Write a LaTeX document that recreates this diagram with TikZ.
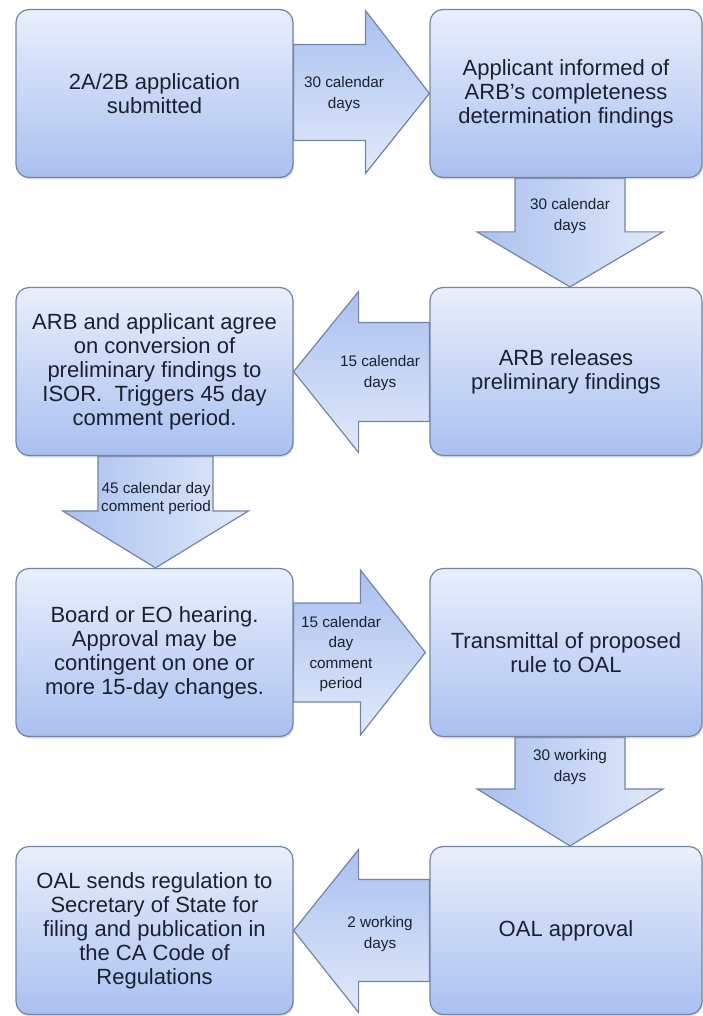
\documentclass[tikz,border=0pt]{standalone}
\usepackage{fontspec}
\setmainfont{Liberation Sans}
\usetikzlibrary{shadows,backgrounds,calc}
\definecolor{boxtop}{HTML}{E9EFFC}
\definecolor{boxbot}{HTML}{A9C0F0}
\definecolor{arrdark}{HTML}{A9C0EF}
\definecolor{arrlight}{HTML}{E2EAFA}
\definecolor{edge}{HTML}{7384A4}
\definecolor{ink}{HTML}{1B2030}
\tikzset{
  stage/.style={draw=edge, line width=1.2pt, rounded corners=13pt,
    top color=boxtop, bottom color=boxbot,
    minimum width=277pt, minimum height=168pt, inner sep=0pt,
    align=center, text=ink, font=\fontsize{22}{24}\selectfont,
    drop shadow={shadow xshift=1pt, shadow yshift=-2pt, opacity=0.25}},
  stageR/.style={stage, minimum width=272pt},
  blockarrow/.style={draw=edge, line width=1.2pt, line join=miter},
  harrow/.style={blockarrow, top color=arrdark, bottom color=arrlight},
  varrow/.style={blockarrow, left color=arrdark, right color=arrlight},
  lbl/.style={font=\fontsize{15.3}{20.5}\selectfont, text=ink, align=center, inner sep=0pt},
}
\begin{document}
\begin{tikzpicture}[x=1pt,y=-1pt]
\useasboundingbox (0,0) rectangle (703,1016);

% boxes
\node[stage]  (b1) at (154.5,93.5)  {2A/2B application\\submitted};
\node[stageR] (b2) at (566,93.5)    {Applicant informed of\\ARB’s completeness\\determination findings};
\node[stage]  (b3) at (154.5,371.5) {ARB and applicant agree\\on conversion of\\preliminary findings to\\ISOR.\ \ Triggers 45 day\\comment period.};
\node[stageR] (b4) at (566,371.5)   {ARB releases\\preliminary findings};
\node[stage]  (b5) at (154.5,652.5) {Board or EO hearing.\\Approval may be\\contingent on one or\\more 15-day changes.};
\node[stageR] (b6) at (566,652.5)   {Transmittal of proposed\\rule to OAL};
\node[stage]  (b7) at (154.5,930.5) {OAL sends regulation to\\Secretary of State for\\filing and publication in\\the CA Code of\\Regulations};
\node[stageR] (b8) at (566,930.5)   {OAL approval};

\begin{scope}[on background layer]
% b1 -> b2 (right)
\draw[harrow] ($(b1.east)+(0,-49)$) -- ($(b2.west)+(-64,-49)$) -- ($(b2.west)+(-64,-83)$)
  -- (b2.west) -- ($(b2.west)+(-64,80)$) -- ($(b2.west)+(-64,47)$) -- ($(b1.east)+(0,47)$) -- cycle;
% b2 -> b4 (down)
\coordinate (d1) at ($(b2.south)+(4,0)$);
\coordinate (d1t) at (d1 |- b4.north);
\draw[varrow] ($(d1)+(-55,0)$) -- ($(d1t)+(-55,-55)$) -- ($(d1t)+(-93,-55)$) -- (d1t)
  -- ($(d1t)+(93,-55)$) -- ($(d1t)+(55,-55)$) -- ($(d1)+(55,0)$) -- cycle;
% b4 -> b3 (left)
\draw[harrow] ($(b4.west)+(0,-49)$) -- ($(b3.east)+(65,-49)$) -- ($(b3.east)+(65,-80)$)
  -- (b3.east) -- ($(b3.east)+(65,81)$) -- ($(b3.east)+(65,50)$) -- ($(b4.west)+(0,50)$) -- cycle;
% b3 -> b5 (down)
\coordinate (d2) at ($(b3.south)+(1,0)$);
\coordinate (d2t) at (d2 |- b5.north);
\draw[varrow] ($(d2)+(-57.5,0)$) -- ($(d2t)+(-57.5,-57)$) -- ($(d2t)+(-93,-57)$) -- (d2t)
  -- ($(d2t)+(93,-57)$) -- ($(d2t)+(57.5,-57)$) -- ($(d2)+(57.5,0)$) -- cycle;
% b5 -> b6 (right)
\draw[harrow] ($(b5.east)+(0,-49.5)$) -- ($(b6.west)+(-69,-49.5)$) -- ($(b6.west)+(-69,-82.5)$)
  -- ($(b6.west)+(-4,0)$) -- ($(b6.west)+(-69,82.5)$) -- ($(b6.west)+(-69,49.5)$) -- ($(b5.east)+(0,49.5)$) -- cycle;
% b6 -> b8 (down)
\coordinate (d3) at ($(b6.south)+(4,0)$);
\coordinate (d3t) at (d3 |- b8.north);
\draw[varrow] ($(d3)+(-55,0)$) -- ($(d3t)+(-55,-57)$) -- ($(d3t)+(-93,-57)$) -- (d3t)
  -- ($(d3t)+(93,-57)$) -- ($(d3t)+(55,-57)$) -- ($(d3)+(55,0)$) -- cycle;
% b8 -> b7 (left)
\draw[harrow] ($(b8.west)+(0,-51)$) -- ($(b7.east)+(65,-51)$) -- ($(b7.east)+(65,-81)$)
  -- (b7.east) -- ($(b7.east)+(65,82)$) -- ($(b7.east)+(65,51)$) -- ($(b8.west)+(0,51)$) -- cycle;
\end{scope}

% arrow labels
\node[lbl] (l1) at (344,94)  {30 calendar\\days};
\node[lbl] (l2) at (570,216) {30 calendar\\days};
\node[lbl] (l3) at (380,373) {15 calendar\\days};
\node[lbl, font=\fontsize{15.3}{18}\selectfont] (l4) at (156,499) {45 calendar day\\comment period};
\node[lbl] (l5) at (341,654) {15 calendar\\day\\comment\\period};
\node[lbl] (l6) at (570,767) {30 working\\days};
\node[lbl] (l7) at (380,934) {2 working\\days};
\end{tikzpicture}
\end{document}
